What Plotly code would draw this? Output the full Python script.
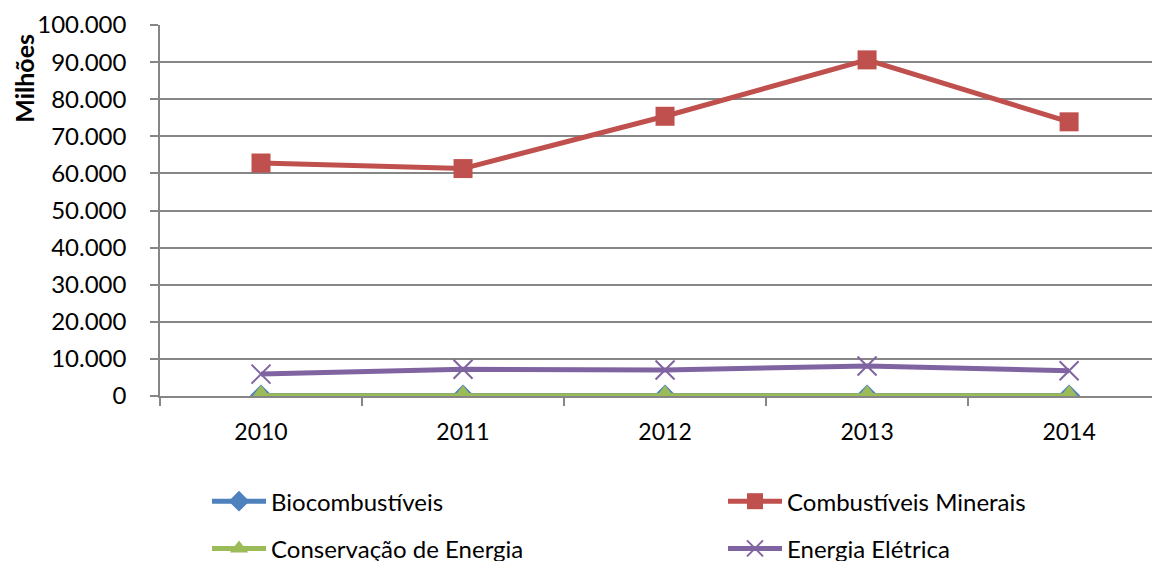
import plotly.graph_objects as go

years = ["2010", "2011", "2012", "2013", "2014"]
bio = [150, 150, 150, 150, 150]
comb = [62800, 61300, 75400, 90600, 73900]
cons = [80, 80, 80, 80, 80]
ener = [5900, 7200, 7000, 8100, 6800]

names = ["Biocombustíveis", "Combustíveis Minerais", "Conservação de Energia", "Energia Elétrica"]
colors = ["#4F81BD", "#C0504D", "#9BBB59", "#8064A2"]

FONT = "Lato"

fig = go.Figure()
fig.add_trace(go.Scatter(x=years, y=bio, name=names[0], mode="lines+markers",
                         line=dict(color=colors[0], width=5),
                         marker=dict(symbol="diamond", size=17, color=colors[0]),
                         legend="legend", legendgroup="a"))
fig.add_trace(go.Scatter(x=years, y=comb, name=names[1], mode="lines+markers",
                         line=dict(color=colors[1], width=5),
                         marker=dict(symbol="square", size=19, color=colors[1]),
                         legend="legend2", legendgroup="b"))
fig.add_trace(go.Scatter(x=years, y=cons, name=names[2], mode="lines+markers",
                         line=dict(color=colors[2], width=5),
                         marker=dict(symbol="triangle-up", size=21, color=colors[2]),
                         legend="legend", legendgroup="c"))
fig.add_trace(go.Scatter(x=years, y=ener, name=names[3], mode="lines+markers",
                         line=dict(color=colors[3], width=5),
                         marker=dict(symbol="x-thin", size=19, color=colors[3],
                                     line=dict(color=colors[3], width=2)),
                         legend="legend2", legendgroup="d"))

fig.update_layout(
    width=1152, height=572,
    margin=dict(l=152, r=0, t=17, b=184),
    paper_bgcolor="white", plot_bgcolor="white",
    separators=",.",
    font=dict(family=FONT, size=22, color="#000000"),
    showlegend=True,
    legend=dict(x=0.047, y=-0.224, xanchor="left", yanchor="top",
                orientation="v", tracegroupgap=13, itemwidth=54,
                font=dict(size=24, family=FONT),
                bgcolor="rgba(0,0,0,0)"),
    legend2=dict(x=0.563, y=-0.224, xanchor="left", yanchor="top",
                 orientation="v", tracegroupgap=13, itemwidth=54,
                 font=dict(size=24, family=FONT),
                 bgcolor="rgba(0,0,0,0)"),
    xaxis=dict(type="category", range=[-0.5, 4.45], tickson="boundaries",
               ticks="outside", ticklen=8, tickcolor="#868686", tickwidth=1.5,
               showline=True, linecolor="#868686", linewidth=1.5,
               showgrid=False, ticklabelstandoff=15, automargin=False,
               tickfont=dict(size=23, family=FONT)),
    yaxis=dict(range=[0, 100000], tickvals=list(range(0, 100001, 10000)),
               tickformat=",d", ticks="outside", ticklen=8, tickcolor="#868686",
               tickwidth=1.5, showline=True, linecolor="#868686", linewidth=1.5,
               showgrid=True, gridcolor="#868686", gridwidth=1.5, zeroline=False,
               ticklabelstandoff=19, automargin=False,
               tickfont=dict(size=24, family=FONT)),
    annotations=[dict(text="<b>Milhões</b>", xref="paper", yref="paper",
                      x=-0.136, y=0.855, xanchor="center", yanchor="middle",
                      textangle=-90, showarrow=False,
                      font=dict(size=25, family=FONT, color="#000000"))],
)

fig.write_html("out.html")
